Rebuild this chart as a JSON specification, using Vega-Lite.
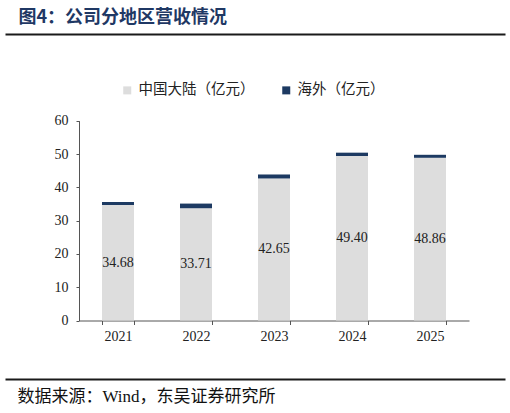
{
  "$schema": "https://vega.github.io/schema/vega-lite/v6.json",
  "autosize": "none",
  "width": 500,
  "height": 345,
  "padding": {"left": 5, "top": 34, "right": 5, "bottom": 34},
  "background": "white",
  "config": {
    "view": {"stroke": null},
    "font": "Liberation Serif, Noto Sans CJK SC"
  },
  "data": {
    "values": [
      {"year": "2021", "region": "中国大陆（亿元）", "value": 34.68},
      {"year": "2021", "region": "海外（亿元）", "value": 0.9},
      {"year": "2022", "region": "中国大陆（亿元）", "value": 33.71},
      {"year": "2022", "region": "海外（亿元）", "value": 1.4},
      {"year": "2023", "region": "中国大陆（亿元）", "value": 42.65},
      {"year": "2023", "region": "海外（亿元）", "value": 1.2},
      {"year": "2024", "region": "中国大陆（亿元）", "value": 49.40},
      {"year": "2024", "region": "海外（亿元）", "value": 1.0},
      {"year": "2025", "region": "中国大陆（亿元）", "value": 48.86},
      {"year": "2025", "region": "海外（亿元）", "value": 0.9}
    ]
  },
  "resolve": {
    "scale": {"x": "independent", "y": "independent"},
    "axis": {"x": "independent", "y": "independent"}
  },
  "layer": [
    {
      "mark": {"type": "bar"},
      "encoding": {
        "x": {
          "field": "year",
          "type": "ordinal",
          "scale": {"type": "band", "range": [74, 464], "paddingInner": 0.59, "paddingOuter": 0.295},
          "axis": {
            "title": null,
            "orient": "bottom",
            "offset": -58.5,
            "tickBand": "extent",
            "labelAngle": 0,
            "labelFont": "Liberation Serif",
            "labelFontSize": 14,
            "labelColor": "#222222",
            "labelPadding": 5,
            "domainColor": "#555555",
            "tickColor": "#555555",
            "tickSize": 4,
            "grid": false
          }
        },
        "y": {
          "field": "value",
          "type": "quantitative",
          "stack": "zero",
          "scale": {"domain": [0, 60], "range": [286.5, 86.7], "nice": false, "zero": true},
          "axis": {
            "title": null,
            "orient": "left",
            "offset": -74,
            "values": [0, 10, 20, 30, 40, 50, 60],
            "labelFont": "Liberation Serif",
            "labelFontSize": 14,
            "labelColor": "#222222",
            "labelPadding": 8,
            "domainColor": "#555555",
            "tickColor": "#555555",
            "tickSize": 3,
            "grid": false
          }
        },
        "color": {
          "field": "region",
          "type": "nominal",
          "scale": {"domain": ["中国大陆（亿元）", "海外（亿元）"], "range": ["#dddddd", "#1d3a62"]},
          "legend": {
            "title": null,
            "orient": "none",
            "legendX": 115,
            "legendY": 49,
            "direction": "horizontal",
            "symbolType": "square",
            "symbolSize": 64,
            "symbolStrokeWidth": 0,
            "labelFont": "Noto Sans CJK SC",
            "labelFontSize": 14.5,
            "labelColor": "#222222",
            "labelOffset": 4,
            "columnPadding": 24
          }
        },
        "order": {"field": "region", "sort": "ascending"}
      }
    },
    {
      "transform": [{"filter": "datum.region === '中国大陆（亿元）'"}],
      "mark": {"type": "text", "baseline": "middle", "align": "center", "font": "Liberation Serif", "fontSize": 14, "color": "#222222"},
      "encoding": {
        "x": {
          "field": "year",
          "type": "ordinal",
          "scale": {"type": "band", "range": [74, 464], "paddingInner": 0.59, "paddingOuter": 0.295},
          "axis": null
        },
        "y": {
          "field": "value",
          "type": "quantitative",
          "scale": {"domain": [0, 120], "range": [286.5, 86.7], "nice": false, "zero": true},
          "axis": null
        },
        "text": {"field": "value", "type": "quantitative", "format": ".2f"}
      }
    },
    {
      "mark": {"type": "rule", "strokeOpacity": 0},
      "encoding": {
        "x": {
          "datum": 0,
          "type": "quantitative",
          "scale": {"domain": [0, 1]},
          "axis": {
            "orient": "top",
            "offset": 0,
            "ticks": false,
            "labels": false,
            "grid": false,
            "domainColor": "#1a1a1a",
            "domainWidth": 2,
            "title": "图4：公司分地区营收情况",
            "titleFont": "Noto Sans CJK SC",
            "titleFontSize": 18,
            "titleFontWeight": "bold",
            "titleColor": "#1f3864",
            "titleAnchor": "start",
            "titleAlign": "left",
            "titleBaseline": "middle",
            "titleX": 13,
            "titleY": -17
          }
        }
      }
    },
    {
      "mark": {"type": "rule", "strokeOpacity": 0},
      "encoding": {
        "x": {
          "datum": 0,
          "type": "quantitative",
          "scale": {"domain": [0, 1]},
          "axis": {
            "orient": "bottom",
            "offset": 0,
            "ticks": false,
            "labels": false,
            "grid": false,
            "domainColor": "#1a1a1a",
            "domainWidth": 2,
            "title": "数据来源：Wind，东吴证券研究所",
            "titleFont": "Liberation Serif, Noto Sans CJK SC",
            "titleFontSize": 17,
            "titleFontWeight": "normal",
            "titleColor": "#111111",
            "titleAnchor": "start",
            "titleAlign": "left",
            "titleBaseline": "middle",
            "titleX": 12,
            "titleY": 17
          }
        }
      }
    }
  ]
}
